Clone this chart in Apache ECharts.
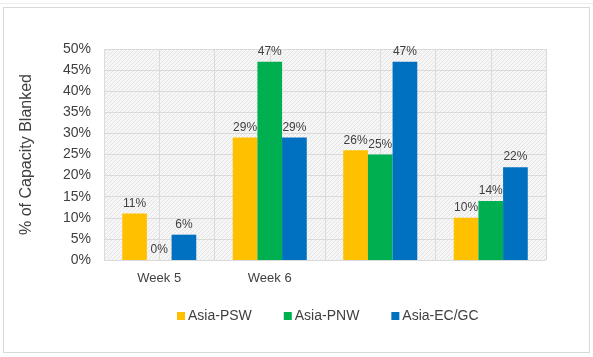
<!DOCTYPE html>
<html>
<head>
<meta charset="utf-8">
<script src="https://cdn.jsdelivr.net/npm/echarts@6/dist/echarts.min.js"></script>
<style>
html,body{margin:0;padding:0;background:#fff;}
#frame{position:absolute;left:3px;top:7px;width:587px;height:346px;border:1px solid #d9d9d9;box-sizing:border-box;}
#topline{position:absolute;left:0;top:3px;width:593px;height:1px;background:#ececec;}
#chart{position:absolute;left:0;top:0;width:593px;height:357px;}
</style>
</head>
<body>
<div id="topline"></div>
<div id="frame"></div>
<div id="chart"></div>
<script>
const categories = ['Week 5', 'Week 6', '', ''];
const seriesNames = ['Asia-PSW', 'Asia-PNW', 'Asia-EC/GC'];
const psw = [11, 29, 26, 10];
const pnw = [0, 47, 25, 14];
const ecgc = [6, 29, 47, 22];
const colors = ['#FFC000', '#00B050', '#0070C0'];
const gridBands = ['', '', '', '', '', '', '', ''];

const pc = document.createElement('canvas');
pc.width = 4; pc.height = 4;
const ctx = pc.getContext('2d');
ctx.fillStyle = '#f6f6f6';
ctx.fillRect(0, 0, 4, 4);
ctx.fillStyle = '#e4e4e4';
for (let i = 0; i < 4; i++) ctx.fillRect(i, 3 - i, 1, 1);

const chart = echarts.init(document.getElementById('chart'));
const labelStyle = {show: true, position: 'top', formatter: '{c}%', color: '#404040', fontSize: 12, fontFamily: 'Liberation Sans', distance: 4};
function mk(name, data, color) {
  return {name, type: 'bar', data, xAxisIndex: 0, itemStyle: {color}, label: labelStyle,
    barGap: '0%', barCategoryGap: '33%'};
}
chart.setOption({
  animation: false,
  grid: {left: 104, right: 47, top: 49, bottom: 97, show: true, backgroundColor: {image: pc, repeat: 'repeat'}, borderWidth: 0},
  legend: {
    data: seriesNames, left: 172, top: 304, itemWidth: 8, itemHeight: 8, itemGap: 32,
    icon: 'rect', textStyle: {color: '#404040', fontSize: 14, fontFamily: 'Liberation Sans', padding: [0, 0, 0, -2]}
  },
  xAxis: [
    {type: 'category', data: categories, axisLine: {show: false}, axisTick: {show: false},
     axisLabel: {color: '#404040', fontSize: 13, fontFamily: 'Liberation Sans', margin: 12},
     splitLine: {show: false}},
    {type: 'category', data: gridBands, position: 'bottom', axisLine: {show: false}, axisTick: {show: false},
     axisLabel: {show: false}, splitLine: {show: true, interval: 0, lineStyle: {color: '#dadada', width: 1}}}
  ],
  yAxis: {
    type: 'value', min: 0, max: 50, interval: 5,
    name: '% of Capacity Blanked', nameLocation: 'middle', nameGap: 69,
    nameTextStyle: {color: '#404040', fontSize: 16, fontFamily: 'Liberation Sans'},
    axisLabel: {formatter: '{value}%', color: '#404040', fontSize: 14, fontFamily: 'Liberation Sans', margin: 13},
    axisLine: {show: false}, axisTick: {show: false},
    splitLine: {lineStyle: {color: '#dadada', width: 1}}
  },
  series: [mk(seriesNames[0], psw, colors[0]), mk(seriesNames[1], pnw, colors[1]), mk(seriesNames[2], ecgc, colors[2])]
});
</script>
</body>
</html>
